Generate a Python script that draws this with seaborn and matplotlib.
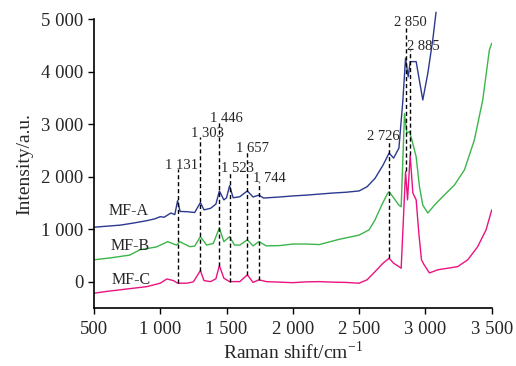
import numpy as np
import pandas as pd
import matplotlib
matplotlib.use("Agg")
import matplotlib.pyplot as plt
from matplotlib.ticker import FuncFormatter, MultipleLocator
import seaborn as sns

# MF-A spectrum
x_a = [500, 600, 700, 800, 900, 960, 1000, 1030, 1080, 1110, 1131, 1150, 1200, 1260,
       1303, 1330, 1380, 1420, 1446, 1480, 1500, 1523, 1550, 1600, 1657, 1700, 1744,
       1780, 1900, 2000, 2100, 2200, 2300, 2400, 2500, 2560, 2620, 2680, 2726, 2760,
       2800, 2830, 2850, 2870, 2885, 2930, 2980, 3018, 3055, 3080]
int_a = [1040, 1060, 1080, 1120, 1165, 1200, 1240, 1230, 1310, 1280, 1545, 1340, 1335, 1320,
         1510, 1370, 1400, 1480, 1730, 1560, 1600, 1830, 1600, 1620, 1730, 1615, 1650,
         1595, 1615, 1635, 1650, 1670, 1690, 1705, 1730, 1810, 1970, 2220, 2450, 2355,
         2545, 3460, 4255, 3900, 4190, 4190, 3460, 3970, 4600, 5130]

# MF-B spectrum
x_b = [500, 620, 771, 846, 972, 1057, 1122, 1147, 1223, 1260, 1303, 1350, 1400, 1446,
       1480, 1523, 1560, 1600, 1657, 1700, 1744, 1800, 1900, 2000, 2100, 2200, 2350,
       2500, 2575, 2620, 2670, 2715, 2726, 2760, 2800, 2817, 2842, 2860, 2880, 2905,
       2930, 2955, 2980, 3018, 3068, 3143, 3218, 3294, 3369, 3432, 3482, 3500]
int_b = [420, 455, 510, 610, 665, 765, 700, 765, 670, 680, 860, 700, 730, 1025,
         765, 860, 700, 700, 800, 685, 765, 685, 690, 720, 720, 710, 810,
         890, 990, 1180, 1460, 1685, 1715, 1600, 1460, 1430, 3200, 2830, 2860, 2630,
         2380, 1810, 1460, 1310, 1460, 1655, 1840, 2130, 2700, 3460, 4410, 4540]

# MF-C spectrum
x_c = [500, 600, 700, 800, 900, 1000, 1050, 1100, 1131, 1200, 1250, 1303, 1330, 1380,
       1420, 1446, 1480, 1523, 1600, 1657, 1700, 1744, 1800, 1900, 2000, 2100, 2200,
       2300, 2400, 2500, 2560, 2620, 2680, 2726, 2760, 2800, 2817, 2829, 2850, 2865,
       2885, 2905, 2930, 2950, 2970, 2990, 3030, 3093, 3168, 3243, 3319, 3394, 3457, 3500]
int_c = [-215, -180, -150, -120, -90, -25, 55, 25, -25, -25, 0, 215, 25, 5,
         60, 310, 70, 5, 5, 135, -10, 40, 5, -5, -15, 0, 5,
         -5, -10, -25, 40, 195, 355, 450, 355, 290, 260, 930, 2100, 1560,
         2410, 1690, 1560, 930, 420, 325, 170, 230, 260, 290, 420, 670, 990, 1370]

series_names = ["MF-A", "MF-B", "MF-C"]
colors = ["#2b3990", "#3cb54a", "#ea1380"]

# marked peaks
peaks = [1131, 1303, 1446, 1523, 1657, 1744, 2726, 2850, 2885]
peak_labels = ["1 131", "1 303", "1 446", "1 523", "1 657", "1 744", "2 726", "2 850", "2 885"]
peak_tops = [2140, 2750, 3040, 2090, 2480, 1900, 2700, 4870, 4410]
label_dx = [30, 50, 55, 60, 35, 80, -40, 40, 100]

df = pd.concat([
    pd.DataFrame({"shift": x_a, "intensity": int_a, "sample": "MF-A"}),
    pd.DataFrame({"shift": x_b, "intensity": int_b, "sample": "MF-B"}),
    pd.DataFrame({"shift": x_c, "intensity": int_c, "sample": "MF-C"}),
])

sns.set_style("ticks")
plt.rcParams["font.family"] = ["Liberation Serif", "DejaVu Serif"]
plt.rcParams["mathtext.fontset"] = "stix"

fig, ax = plt.subplots(figsize=(5.16, 3.66), dpi=100)
fig.subplots_adjust(left=0.182, right=0.953, top=0.948, bottom=0.158)

for name, col in zip(series_names, colors):
    sub = df[df["sample"] == name]
    sns.lineplot(data=sub, x="shift", y="intensity", ax=ax, color=col, lw=1.0,
                 estimator=None, sort=False, legend=False, clip_on=(name != "MF-A"))

# dashed guide lines from the label down to the MF-C trace
for p, lab, top, dx in zip(peaks, peak_labels, peak_tops, label_dx):
    bottom = np.interp(p, x_c, int_c)
    ax.plot([p, p], [bottom, top], color="black", lw=1.0, ls=(0, (3, 2)))
    ax.text(p + dx, top, lab, ha="center", va="baseline", fontsize=10.5)

ax.text(760, 1350, "MF-A", ha="center", va="center", fontsize=11.5)
ax.text(770, 680, "MF-B", ha="center", va="center", fontsize=11.5)
ax.text(780, 30, "MF-C", ha="center", va="center", fontsize=11.5)

ax.set_xlim(500, 3500)
ax.set_ylim(-500, 5000)
ax.xaxis.set_major_locator(MultipleLocator(500))
ax.yaxis.set_major_locator(MultipleLocator(1000))
fmt = FuncFormatter(lambda v, pos: f"{int(v):,}".replace(",", " "))
ax.xaxis.set_major_formatter(fmt)
ax.yaxis.set_major_formatter(fmt)
ax.tick_params(direction="out", length=4.5, width=1.0, labelsize=13.5, color="black")
ax.tick_params(axis="x", pad=5)
ax.tick_params(axis="y", pad=3)

ax.set_xlabel(r"Raman shift/cm$^{\mathregular{-1}}$", fontsize=14, labelpad=2)
ax.set_ylabel("Intensity/a.u.", fontsize=14, labelpad=6)

sns.despine(ax=ax)
for s in ["left", "bottom"]:
    ax.spines[s].set_color("black")
    ax.spines[s].set_linewidth(1.2)

fig.savefig("out.png", dpi=100)
